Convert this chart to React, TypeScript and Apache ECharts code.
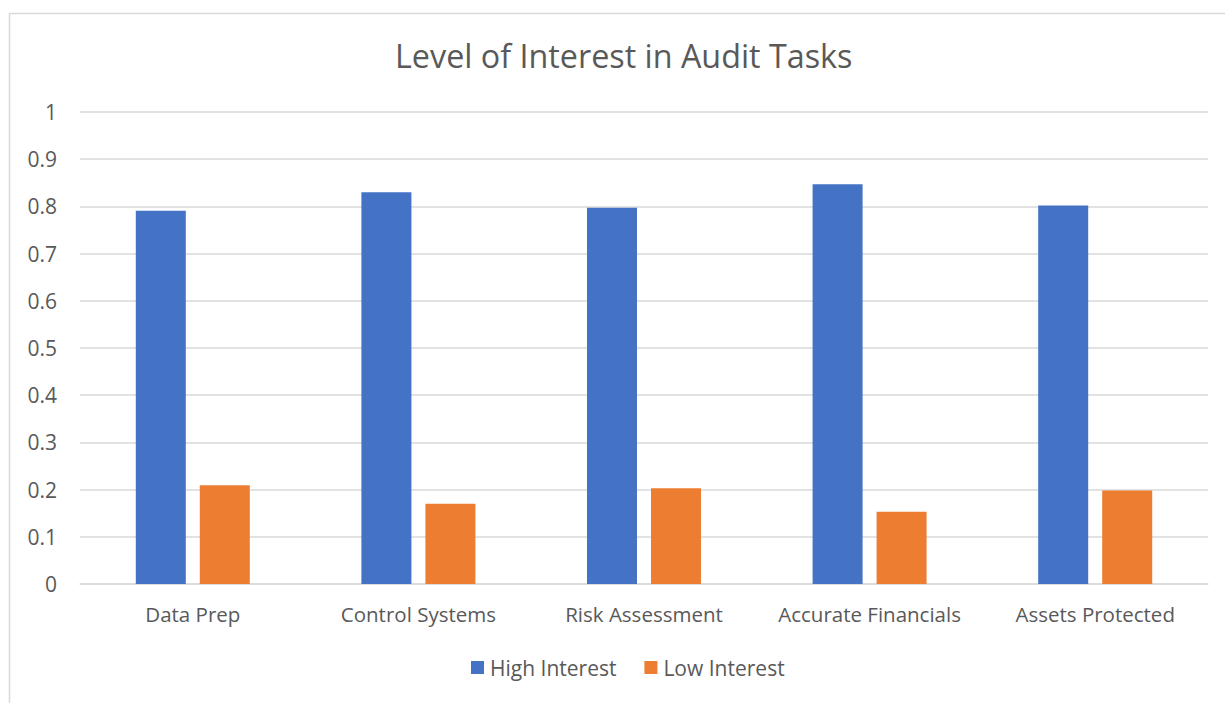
import React, { useEffect, useRef } from "react";
import * as echarts from "echarts";

const categories = ["Data Prep", "Control Systems", "Risk Assessment", "Accurate Financials", "Assets Protected"];
const highInterest = [0.791, 0.83, 0.797, 0.847, 0.802];
const lowInterest = [0.209, 0.17, 0.203, 0.153, 0.198];
const yTicks = { min: 0, max: 1, interval: 0.1 };

const FONT = "'Open Sans', sans-serif";
const TEXT = "#595959";

export default function App() {
  const ref = useRef<HTMLDivElement>(null);
  useEffect(() => {
    document.body.style.margin = "0";
    const chart = echarts.init(ref.current!, null, { renderer: "svg" });
    chart.setOption({
      animation: false,
      backgroundColor: "#ffffff",
      textStyle: { fontFamily: FONT },
      title: {
        text: "Level of Interest in Audit Tasks",
        left: 390,
        top: 34,
        textStyle: { fontFamily: FONT, fontSize: 32.3, fontWeight: "normal", color: TEXT },
      },
      graphic: [
        {
          type: "rect",
          shape: { x: 9.5, y: 13.5, width: 1240, height: 720 },
          style: { fill: "none", stroke: "#d9d9d9", lineWidth: 1.5 },
          silent: true,
        },
      ],
      legend: {
        bottom: 20,
        left: 466,
        itemWidth: 13,
        itemHeight: 13,
        itemGap: 28,
        icon: "rect",
        textStyle: { fontFamily: FONT, fontSize: 21, color: TEXT, padding: [0, 0, 0, 1] },
        data: ["High Interest", "Low Interest"],
      },
      grid: { left: 80, right: 17, top: 112, bottom: 119, containLabel: false },
      xAxis: {
        type: "category",
        data: categories,
        axisLine: { lineStyle: { color: "#d9d9d9", width: 1.5 } },
        axisTick: { show: false },
        axisLabel: { fontFamily: FONT, fontSize: 20.5, color: TEXT, margin: 19, interval: 0 },
      },
      yAxis: {
        type: "value",
        min: yTicks.min,
        max: yTicks.max,
        interval: yTicks.interval,
        axisLine: { show: false },
        axisTick: { show: false },
        splitLine: { lineStyle: { color: "#d9d9d9", width: 1.5 } },
        axisLabel: {
          fontFamily: FONT,
          fontSize: 21,
          color: TEXT,
          margin: 23,
          formatter: (v: number) => String(Math.round(v * 10) / 10),
        },
      },
      series: [
        {
          name: "High Interest",
          type: "bar",
          data: highInterest,
          barWidth: 50,
          barGap: "28%",
          itemStyle: { color: "#4472C4" },
        },
        {
          name: "Low Interest",
          type: "bar",
          data: lowInterest,
          barWidth: 50,
          barGap: "28%",
          itemStyle: { color: "#ED7D31" },
        },
      ],
    });
    return () => chart.dispose();
  }, []);
  return <div ref={ref} style={{ position: "absolute", left: 0, top: 0, width: 1225, height: 703 }} />;
}
